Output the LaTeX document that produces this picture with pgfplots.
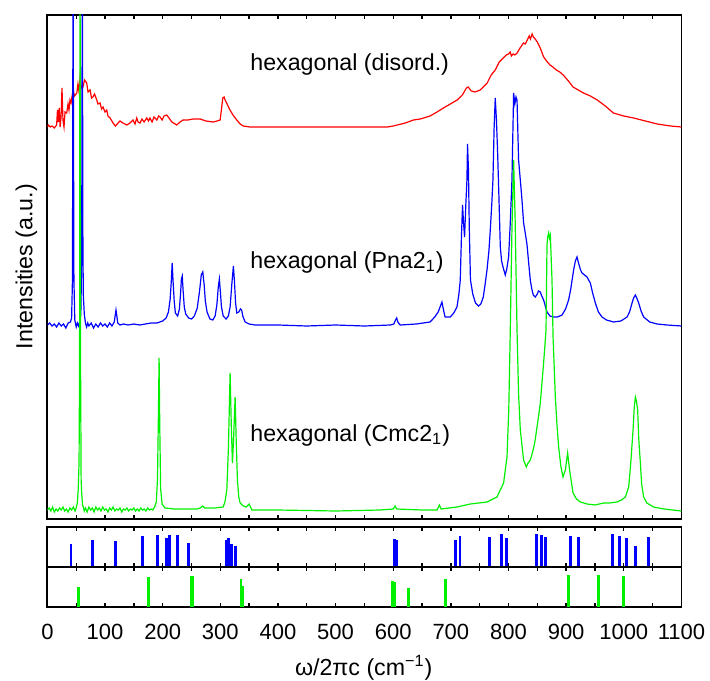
\documentclass[border=0pt]{standalone}
\usepackage{fontspec}
\setmainfont{Liberation Sans}
\usepackage{pgfplots}
\pgfplotsset{compat=1.18}
\newcommand\lf{\fontsize{11.6}{13.9}\selectfont}
\newcommand\tf{\fontsize{11}{13}\selectfont}
\definecolor{gr}{RGB}{0,240,0}
\begin{document}
\begin{tikzpicture}
\pgfplotsset{
  spec/.style={scale only axis, width=317pt, xmin=0, xmax=1100,
    ytick=\empty, xtick={0,100,...,1100}, minor xtick={50,150,...,1050},
    tick align=inside, major tick length=2pt, minor tick length=2pt,
    tick style={black, line width=0.7pt},
    axis line style={line width=0.9pt},
    xticklabels={}, clip=true},
}
% ---------------- main panel ----------------
\begin{axis}[spec, name=main, at={(0pt,0pt)}, anchor=south west, height=252pt, ymin=0, ymax=504]
\addplot[red, line width=0.6pt] coordinates {
(0,392) (1.6,394) (5,392) (8,393) (12,391) (16,394) (17.5,409) (19,397) (20.5,411) (22,392) (23.6,401) (25.3,431) (27,399) (28.8,392) (30.6,407) (33.5,406) (35.8,415) (37.5,409) (39.2,419) (41,416) (44.5,429) (47,423) (51,426) (53,435) (55,427) (56.6,441) (59,431) (61.8,432) (64.4,439) (68.2,436) (70.5,427) (74,429) (76.6,421) (79,422) (81.8,425) (85.6,419) (87.8,415) (91.3,416) (94,410) (96.5,412) (100,407) (103,409) (105,403) (108.7,401) (113.9,396) (118,393) (122.6,396) (126,398) (131,396) (137.7,394) (143.4,396) (148.6,399) (152,395) (155,401) (157.3,397) (160.8,396) (164,400) (167.7,397) (172.4,401) (175.5,398) (178,401) (181.6,397) (185,402) (189.8,399) (193,403) (195.5,402) (199,399) (202.4,403) (207,404) (211,401) (216,397) (224.5,394) (230,397) (235.4,399) (244,399) (252.8,400) (265,400) (275,398) (287.5,397) (294.4,398) (299.7,399) (302.3,411) (304.3,421) (306.6,422) (308.3,419) (311.8,415) (316.7,409) (322,404) (328.6,399) (334.4,395) (339.6,393) (351.7,392) (450,392) (550,392) (590,392) (600,393) (621,396) (635,399) (647,400) (664,403) (676,407) (687,411) (699,415) (711,419) (720,424) (727,431) (730,432) (735.4,428) (742,427) (751,429) (758,433) (763,436) (770,444) (777,449) (784,457) (791,461) (796,464) (800,465) (803,467) (805,463) (808,465) (811,464) (815,466) (820,471) (826,476) (829,475) (832.6,479) (836,483) (838,480) (841,485) (843,482) (845,481) (850,477) (855,471) (861,462) (866,458) (872,454) (877,452) (883,449) (889,447) (895,444) (904,438) (912,432) (921,429) (930,426) (942,423) (954,419) (968,413) (982,406) (1000,403) (1017,401) (1037.5,398) (1058,395) (1081,393) (1100,392)
};
\addplot[blue, line width=0.6pt] coordinates {
(0,194) (4,196) (8,193) (12,195) (16,192) (20,196) (24,193) (28,195) (32,191) (36,196) (40,197) (42,201) (43.5,240) (44.5,560) (46,240) (47.5,199) (50,192) (52,196) (54,193) (56,197) (58,205) (59.5,260) (60.6,560) (61.6,280) (62.3,224) (64,205) (66,196) (68,192) (70,196) (72,193) (76,196) (80,191) (84,195) (88,192) (92,196) (96,193) (100,195) (104,192) (108,196) (112,193) (116,197) (118,205) (119,209) (120.5,203) (122,196) (126,194) (132,195) (140,194) (150,195) (160,194) (170,195) (180,196) (190,196) (200,198) (206,201) (210,207) (213,220) (215,238) (216.5,256) (218,238) (220,218) (222,206) (226,203) (229,210) (231,225) (232.5,240) (234,243) (235.5,228) (237.5,212) (240,205) (245,201) (250,200) (255,203) (260,211) (264,228) (267,244) (269.6,247) (272,234) (274,218) (277,207) (282,200) (287,199) (291,203) (294,214) (296.5,232) (298.4,240) (300,228) (302,212) (305,203) (310,200) (314,203) (317,212) (320,235) (322.7,253) (324.5,238) (326.5,216) (328.6,206) (332,207) (335,210) (337,209) (339,203) (343,197) (350,195) (360,194) (400,194) (450,193) (500,194) (550,193) (595,194) (601,195) (604,199) (606,201) (608,197) (612,194) (640,195) (664,197) (672,202) (678,207) (684.5,217) (688,207) (690,202) (699,202) (705,206) (710.6,212) (714,225) (716.3,239) (718.5,285) (720.3,314) (722,296) (723.8,282) (726,315) (727.9,339) (728.9,375) (730.5,350) (732,290) (734,239) (738,225) (742.7,216) (748,213) (752,215) (756.3,222) (759.5,235) (762.7,249) (766,268) (768.4,289) (771,315) (773,339) (775,390) (777,421) (779,400) (781,369) (783.5,320) (785.8,272) (788,258) (790.5,252) (794.4,244) (797,250) (800.2,262) (803,295) (806,339) (808.9,426) (811,415) (813,422) (814.8,419) (817.5,359) (820.5,339) (823.4,319) (826.2,296) (828,290) (830.4,281) (832,275) (835,256) (838,238) (840.8,229) (843,224) (846.5,222) (850,225) (852,228) (855.2,227) (857,224) (860.9,219) (866.8,207) (872,203) (878.3,202) (885,202) (892.9,204) (899,210) (904.3,219) (908,230) (913,249) (916,258) (918.9,262) (922,255) (925,249) (927.6,246) (932,244) (936.3,242) (939,239) (942,236) (946,226) (950.7,216) (956,207) (962.3,202) (970,199) (982.5,197) (995,198) (1005.7,202) (1010,207) (1014.4,216) (1017,221) (1020.1,224) (1022.5,221) (1025.9,216) (1030,208) (1034.5,202) (1045,197) (1057.8,195) (1075,194) (1100,193)
};
\addplot[gr, line width=0.6pt] coordinates {
(0,9) (3,11) (6,8) (9,12) (12,7) (15,10) (18,8) (21,11) (24,9) (27,12) (30,8) (33,10) (36,7) (39,11) (42,9) (45,12) (48,8) (50,11) (51.9,16) (53.5,30) (54.9,56) (55.8,150) (56.6,600) (57.6,150) (58.5,40) (59.5,26) (61,14) (62.3,12) (64,8) (66,11) (69,7) (72,12) (75,9) (78,11) (81,7) (84,12) (87,9) (90,11) (93,8) (96,12) (99,9) (102,10) (105,7) (108,11) (111,9) (114,12) (117,8) (120,10) (123,9) (126,11) (129,7) (132,10) (135,9) (138,11) (141,8) (144,10) (147,9) (150,11) (153,8) (156,10) (159,8) (162,11) (165,9) (168,10) (171,8) (174,11) (177,9) (180,10) (183,9) (186,12) (189,17) (191,40) (192.5,100) (193.8,161) (195,90) (196.5,30) (199,15) (204,11) (220,10) (240,10) (260,10) (265,11) (269.6,13) (273,11) (290,11) (304.9,12) (308,17) (311.3,29) (314,70) (317,146) (319,95) (321,56) (323,80) (325.7,122) (327.5,80) (329.7,39) (332,22) (334.4,16) (340,13) (345,12) (350,15) (354.7,9) (400,9) (500,8) (577,9) (600,10) (603.3,13) (606,10) (650,9) (676,9) (680,14) (683,10) (710.6,12) (733.7,15) (762.7,17) (780,22) (791.5,36) (797.4,62) (800.5,110) (803.1,189) (806,290) (808.9,359) (811.5,300) (814.8,189) (817.5,125) (820.5,89) (826.2,59) (830.9,52) (834,56) (837.8,59) (840,63) (843.6,71) (846,78) (849.5,92) (852,102) (855.2,116) (860.9,156) (863,172) (865.1,189) (866.8,274) (868,282) (869.6,286) (871,281) (872.6,284) (874,262) (875.5,239) (877.3,182) (881.3,122) (884,95) (887,72) (891,52) (894.6,42) (898.6,49) (902.6,66) (906,49) (912,26) (918,20) (924.7,17) (936.3,15) (950,14) (965,16) (975,16) (988.4,17) (996,19) (1002.8,22) (1008.5,32) (1012,55) (1016.1,89) (1018,110) (1020.1,122) (1022,118) (1024.1,109) (1026,80) (1028.8,56) (1031,35) (1034.5,22) (1040,16) (1051.9,12) (1070,10) (1100,8)
};
\end{axis}
% ---------------- blue sticks ----------------
\begin{axis}[spec, at={(0pt,-4pt)}, anchor=north west, height=20pt, ymin=0, ymax=40]
\addplot[ycomb, blue, line width=1.4pt, mark=none] coordinates {
(41,23.3) (78,27.3) (118,26.3) (165,31.3) (191,31.7) (206,29.3) (212,32.3) (226,31.7) (245,24.3) (310,27.3) (314,29.3) (320,22.7) (327,20.7) (602,28.3) (606,26.7) (708,27.3) (716,31) (767,30.3) (788,32.7) (797,29) (848,33) (857,32.3) (864,30.3) (908,31.3) (921,30.3) (980,33.3) (993,31.3) (1005,29.3) (1021,20.7) (1043,30.3)
};
\end{axis}
% ---------------- green sticks ----------------
\begin{axis}[spec, at={(0pt,-24pt)}, anchor=north west, height=20pt, ymin=0, ymax=40,
  xticklabels={0,100,200,300,400,500,600,700,800,900,1000,1100},
  xticklabel style={font=\tf, anchor=base, yshift=-16.25pt}]
\addplot[ycomb, gr, line width=1.4pt, mark=none] coordinates {
(54,20) (176,29.7) (249,30.7) (252,31.3) (336,27.7) (339,21) (599,26) (603,25.3) (626,19) (691,28.3) (904,31.7) (956,32.3) (1000,30.7)
};
\end{axis}
% ---------------- labels ----------------
\node[font=\lf, anchor=base west, inner sep=0pt] at (101.3pt,224pt) {hexagonal (disord.)};
\node[font=\lf, anchor=base west, inner sep=0pt] at (101.3pt,125.4pt) {hexagonal (Pna2\textsubscript{1})};
\node[font=\lf, anchor=base west, inner sep=0pt] at (101.3pt,39pt) {hexagonal (Cmc2\textsubscript{1})};
\node[font=\lf, anchor=base, inner sep=0pt] at (158.15pt,-78pt) {ω/2πc (cm\textsuperscript{−1})};
\node[font=\lf, anchor=base, inner sep=0pt, rotate=90] at (-7.55pt,126.25pt) {Intensities (a.u.)};
\pgfresetboundingbox
\path[use as bounding box] (-23.7pt,259.5pt) rectangle (331.3pt,-80.5pt);
\end{tikzpicture}
\end{document}
